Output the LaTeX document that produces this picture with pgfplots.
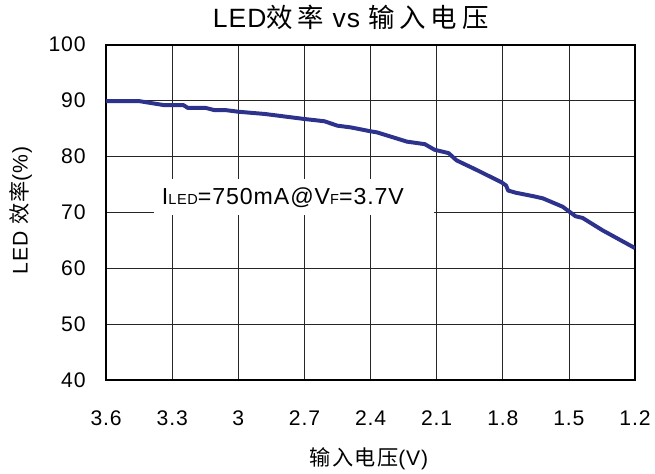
\documentclass[border=0pt]{standalone}
\usepackage{fontspec}
\setmainfont{Liberation Sans}[LetterSpace=4]
\newfontfamily\cjk{Noto Sans CJK SC}[LetterSpace=6]
\usepackage{pgfplots}
\pgfplotsset{compat=1.18}

\definecolor{curve}{RGB}{45,50,140}
\newcommand{\cs}{\hspace{0.18em}}

\begin{document}
\begin{tikzpicture}[x=0.75pt,y=0.75pt]
\begin{axis}[
  scale only axis,
  width=399.75pt, height=253.5pt,
  at={(0,0)}, anchor=south west,
  x dir=reverse,
  xmin=1.2, xmax=3.6, ymin=40, ymax=100,
  xtick={1.2,1.5,1.8,2.1,2.4,2.7,3.0,3.3,3.6},
  xticklabels={1.2,1.5,1.8,2.1,2.4,2.7,3,3.3,3.6},
  ytick={40,50,...,100},
  grid=major,
  major grid style={black!85, line width=0.6pt},
  axis line style={black, line width=1.4pt},
  major tick length=0pt,
  tick label style={font=\fontsize{16}{18}\selectfont},
  /pgf/number format/assume math mode=true,
  xticklabel style={yshift=-20pt},
  yticklabel style={xshift=-12pt},
  title={LED{\cjk 效\cs 率} vs {\cjk 输\cs 入\cs 电\cs 压}},
  title style={font=\fontsize{20}{22}\selectfont, at={(rel axis cs:0.4625,1.059)}, anchor=center},
  xlabel={{\cjk 输入电压}(V)},
  ylabel={LED {\cjk 效率}(\%)},
  label style={font=\fontsize{16}{18}\selectfont},
  xlabel style={at={(rel axis cs:0.497,-0.2337)}, anchor=center},
  ylabel style={at={(rel axis cs:-0.1614,0.506)}, anchor=center},
]
\fill[white] (axis cs:3.384,76.0) rectangle (axis cs:2.114,69.45);
\addplot[curve, line width=3pt, line join=round] coordinates {
  (3.60,89.9) (3.45,89.9) (3.34,89.2) (3.25,89.2) (3.23,88.7) (3.15,88.7)
  (3.11,88.3) (3.06,88.3) (3.00,88.0) (2.88,87.6) (2.70,86.7) (2.61,86.3)
  (2.55,85.5) (2.49,85.2) (2.40,84.5) (2.37,84.3) (2.28,83.2) (2.235,82.65)
  (2.154,82.2) (2.11,81.2) (2.046,80.6) (2.01,79.3) (1.93,77.8) (1.807,75.4)
  (1.785,74.8) (1.776,73.9) (1.74,73.5) (1.663,72.9) (1.618,72.5) (1.528,71.0)
  (1.47,69.3) (1.438,69.0) (1.348,66.8) (1.20,63.6)
};
\node[anchor=base west, inner sep=0pt, font=\fontsize{17.5}{20}\selectfont]
  at (axis cs:3.348,71.4) {I{\fontsize{11}{12}\selectfont LED}=750mA@V{\fontsize{11}{12}\selectfont F}=3.7V};
\end{axis}
\useasboundingbox (-107,-90) rectangle (548,383);
\end{tikzpicture}
\end{document}
